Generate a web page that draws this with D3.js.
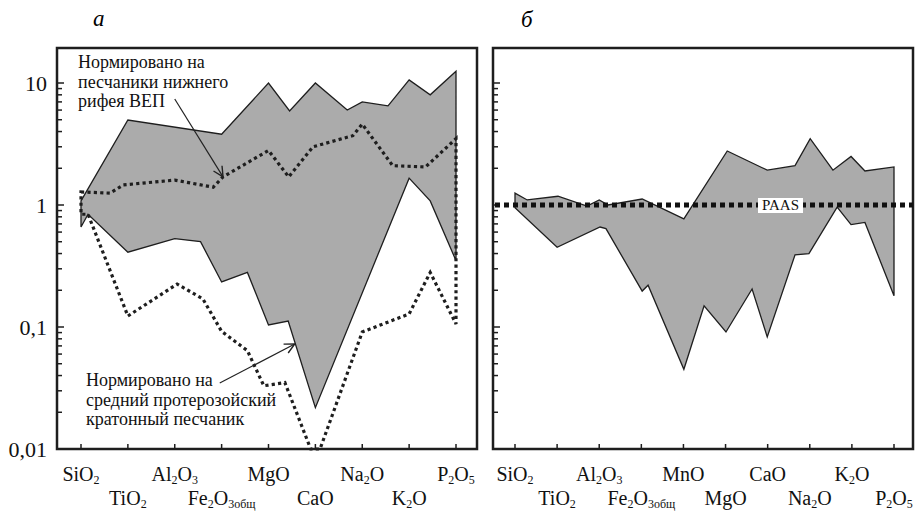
<!DOCTYPE html>
<html>
<head>
<meta charset="utf-8">
<script src="https://cdn.jsdelivr.net/npm/d3@7"></script>
<style>
  body { margin: 0; background: #fff; }
  text { font-family: "Liberation Serif", "Times New Roman", Times, serif; }
</style>
</head>
<body>
<svg width="915" height="512" font-family="Liberation Serif, Times New Roman, serif"></svg>
<script>
// categories (underscore marks a subscript)
const leftCats = ["SiO_2", "TiO_2", "Al_2O_3", "Fe_2O_3общ", "MgO", "CaO", "Na_2O", "K_2O", "P_2O_5"];
const rightCats = ["SiO_2", "TiO_2", "Al_2O_3", "Fe_2O_3общ", "MnO", "MgO", "CaO", "Na_2O", "K_2O", "P_2O_5"];

const yTickValues = [0.01, 0.1, 1, 10];
const yTickLabels = ["0,01", "0,1", "1", "10"];

// [position on category axis, normalised value]
const leftGrayUpper = [[0, 1.08], [1, 4.97], [3, 3.8], [4, 10], [4.45, 5.9], [5, 10], [5.68, 6.0], [6, 7.0],
  [6.55, 6.5], [7, 10.6], [7.45, 8.0], [8, 12.5]];
const leftGrayLower = [[0, 0.66], [0.15, 0.84], [1, 0.41], [2, 0.53], [2.55, 0.5], [3, 0.234], [3.55, 0.28],
  [4, 0.104], [4.42, 0.112], [5, 0.0218], [7, 1.66], [7.45, 1.08], [8, 0.35]];

const leftDotUpper = [[0, 1.28], [0.62, 1.25], [0.9, 1.46], [2, 1.6], [2.82, 1.4], [3.03, 1.7], [4, 2.8],
  [4.43, 1.7], [4.95, 3.0], [5.8, 3.7], [6, 4.6], [6.65, 2.1], [7.35, 2.05], [8, 3.5]];
const leftDotLower = [[0, 0.84], [0.15, 0.84], [1, 0.123], [2.05, 0.225], [2.6, 0.17], [3, 0.092], [3.55, 0.064],
  [3.9, 0.033], [4.35, 0.035], [4.9, 0.01], [5.1, 0.01], [6, 0.091], [7, 0.128], [7.45, 0.28], [8, 0.106]];

const rightGrayUpper = [[0, 1.25], [0.29, 1.1], [1.02, 1.18], [1.71, 0.98], [2, 1.1], [2.21, 1.0], [3.02, 1.12],
  [4.01, 0.77], [5.04, 2.77], [5.99, 1.93], [6.65, 2.1], [7.01, 3.5], [7.55, 1.93], [7.98, 2.5], [8.31, 1.9], [9, 2.05]];
const rightGrayLower = [[0, 0.95], [1, 0.45], [2.02, 0.66], [2.16, 0.64], [3.02, 0.197], [3.16, 0.22], [4.01, 0.045],
  [4.49, 0.149], [5.01, 0.091], [5.63, 0.205], [5.99, 0.083], [6.65, 0.39], [6.98, 0.4], [7.65, 0.96],
  [7.98, 0.69], [8.31, 0.72], [9, 0.18]];

const paasValue = 1;

var svg = d3.select("svg");

var y = d3.scaleLog().domain([0.01, 10]).range([449, 83]);
var xLeft = d3.scaleLinear().domain([0, 8]).range([81, 456]);
var xRight = d3.scaleLinear().domain([0, 9]).range([515, 894]);

svg.append("defs").append("marker")
  .attr("id", "arr")
  .attr("viewBox", "0 0 12 12")
  .attr("refX", 11).attr("refY", 6)
  .attr("markerWidth", 12).attr("markerHeight", 12)
  .attr("markerUnits", "userSpaceOnUse")
  .attr("orient", "auto")
  .append("path")
  .attr("d", "M1,1 L11,6 L1,11")
  .attr("fill", "none").attr("stroke", "#222").attr("stroke-width", 1.4);

function closedShape(upper, lower) {
  return upper.concat(lower.slice().reverse());
}

function drawPanel(x, frame, cats, gray, dotted) {
  var g = svg.append("g");
  var line = d3.line().x(d => x(d[0])).y(d => y(d[1]));

  g.append("path")
    .attr("d", line(gray) + "Z")
    .attr("fill", "#ababab")
    .attr("stroke", "#1e1e1e")
    .attr("stroke-width", 1.3)
    .attr("stroke-linejoin", "miter");

  if (dotted) {
    g.append("path")
      .attr("d", line(dotted) + "Z")
      .attr("fill", "none")
      .attr("stroke", "#1e1e1e")
      .attr("stroke-width", 3.2)
      .attr("stroke-dasharray", "3.2 3.2");
  }

  // minor log ticks on the left edge
  var ticks = [];
  [0.01, 0.1, 1].forEach(d => { for (var k = 1; k < 10; k++) ticks.push(d * k); });
  ticks.push(10);
  g.selectAll("line.yt").data(ticks).enter().append("line")
    .attr("x1", frame.x0).attr("x2", d => frame.x0 + (yTickValues.includes(d) ? 7 : 5))
    .attr("y1", d => y(d)).attr("y2", d => y(d))
    .attr("stroke", "#1e1e1e").attr("stroke-width", 1.5);

  g.selectAll("line.xt").data(cats).enter().append("line")
    .attr("x1", (d, i) => x(i)).attr("x2", (d, i) => x(i))
    .attr("y1", frame.y1).attr("y2", frame.y1 - 5)
    .attr("stroke", "#1e1e1e").attr("stroke-width", 1.5);

  g.append("rect")
    .attr("x", frame.x0).attr("y", frame.y0)
    .attr("width", frame.x1 - frame.x0).attr("height", frame.y1 - frame.y0)
    .attr("fill", "none").attr("stroke", "#1e1e1e").attr("stroke-width", 2.5);

  var lab = g.selectAll("text.cat").data(cats).enter().append("text")
    .attr("class", "cat")
    .attr("x", (d, i) => x(i))
    .attr("y", (d, i) => i % 2 ? 505 : 481)
    .attr("text-anchor", "middle")
    .attr("font-size", 20)
    .attr("fill", "#111");
  lab.each(function(d) {
    var t = d3.select(this);
    d.split("_").forEach((part, j) => {
      if (j === 0) { t.append("tspan").text(part); return; }
      var m = part.match(/^[0-9общ]+/)[0];
      t.append("tspan").attr("font-size", 12).attr("dy", 3).text(m);
      if (part.length > m.length) t.append("tspan").attr("dy", -3).text(part.slice(m.length));
    });
  });
  return g;
}

drawPanel(xLeft, {x0: 57, x1: 477, y0: 48, y1: 449}, leftCats,
  closedShape(leftGrayUpper, leftGrayLower), closedShape(leftDotUpper, leftDotLower));
drawPanel(xRight, {x0: 493, x1: 913, y0: 48, y1: 449}, rightCats,
  closedShape(rightGrayUpper, rightGrayLower), null);

// y labels on the left panel
svg.selectAll("text.yl").data(yTickValues).enter().append("text")
  .attr("x", 47).attr("y", d => y(d)).attr("dy", "0.35em")
  .attr("text-anchor", "end").attr("font-size", 22).attr("fill", "#111")
  .text((d, i) => yTickLabels[i]);

// PAAS reference line
svg.append("line")
  .attr("x1", 495).attr("x2", 913)
  .attr("y1", y(paasValue)).attr("y2", y(paasValue))
  .attr("stroke", "#111").attr("stroke-width", 5).attr("stroke-dasharray", "5 4");
svg.append("rect")
  .attr("x", 758).attr("y", y(paasValue) - 7).attr("width", 45).attr("height", 15)
  .attr("fill", "#fff");
svg.append("text")
  .attr("x", 780.5).attr("y", y(paasValue) + 5)
  .attr("text-anchor", "middle").attr("font-size", 15).attr("fill", "#111")
  .text("PAAS");

// panel letters
svg.append("text").attr("x", 93).attr("y", 26).attr("font-size", 23).attr("font-style", "italic").text("а");
svg.append("text").attr("x", 521).attr("y", 27).attr("font-size", 23).attr("font-style", "italic").text("б");

// annotations
function note(x0, y0, lines) {
  svg.append("text").attr("font-size", 18).attr("fill", "#111")
    .selectAll("tspan").data(lines).enter().append("tspan")
    .attr("x", x0).attr("y", (d, i) => y0 + i * 19.5)
    .text(d => d);
}
note(78, 68, ["Нормировано на", "песчаники нижнего", "рифея ВЕП"]);
note(86, 386, ["Нормировано на", "средний протерозойский", "кратонный песчаник"]);

svg.append("line")
  .attr("x1", xLeft(2.0)).attr("y1", y(7.4))
  .attr("x2", xLeft(3.03)).attr("y2", y(1.7))
  .attr("stroke", "#222").attr("stroke-width", 1.2)
  .attr("marker-end", "url(#arr)");
svg.append("line")
  .attr("x1", xLeft(2.96)).attr("y1", y(0.0347))
  .attr("x2", xLeft(4.56)).attr("y2", y(0.0726))
  .attr("stroke", "#222").attr("stroke-width", 1.2)
  .attr("marker-end", "url(#arr)");
</script>
</body>
</html>
